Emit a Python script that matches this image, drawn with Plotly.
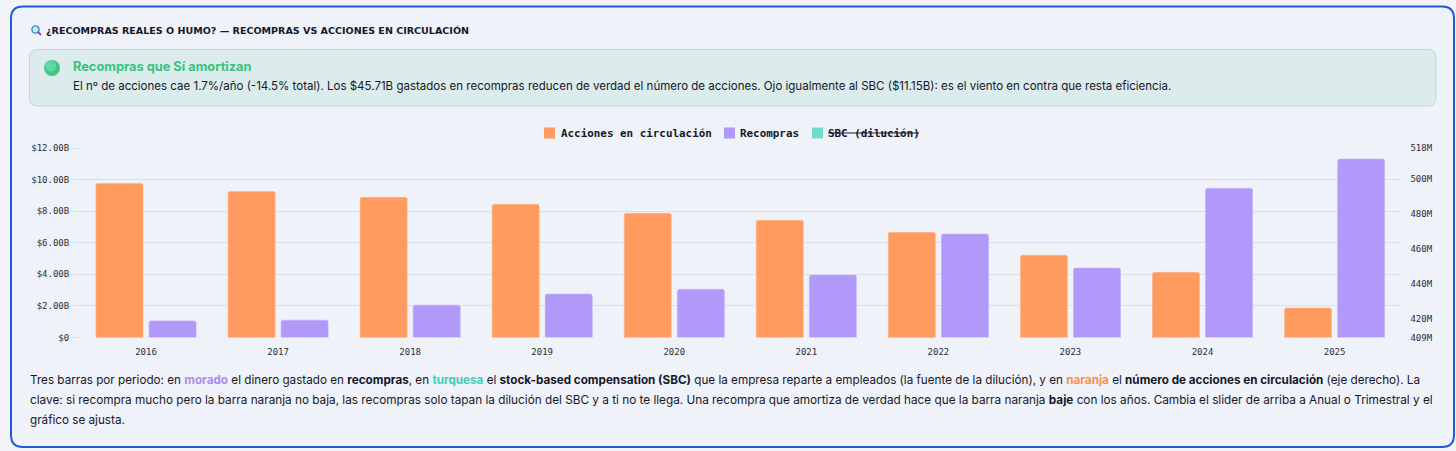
import plotly.graph_objects as go

W, H = 1456, 451

years = ["2016", "2017", "2018", "2019", "2020", "2021", "2022", "2023", "2024", "2025"]
shares_m = [497.6, 493.0, 489.6, 485.6, 480.4, 476.4, 469.5, 456.3, 446.5, 425.9]
buybacks_b = [1.05, 1.10, 2.05, 2.75, 3.05, 3.95, 6.55, 4.40, 9.45, 11.30]

left_ticks = [0, 2, 4, 6, 8, 10, 12]
left_labels = ["$0", "$2.00B", "$4.00B", "$6.00B", "$8.00B", "$10.00B", "$12.00B"]
right_ticks = [409, 420, 440, 460, 480, 500, 518]
right_labels = ["409M", "420M", "440M", "460M", "480M", "500M", "518M"]

legend_names = ["Acciones en circulación", "Recompras", "SBC (dilución)"]
title_text = "¿RECOMPRAS REALES O HUMO? — RECOMPRAS VS ACCIONES EN CIRCULACIÓN"
alert_title = "Recompras que Sí amortizan"
alert_body = ("El nº de acciones cae 1.7%/año (-14.5% total). Los $45.71B gastados en recompras reducen de verdad "
              "el número de acciones. Ojo igualmente al SBC ($11.15B): es el viento en contra que resta eficiencia.")
note_lines = [
    'Tres barras por periodo: en <span style="color:#a98cf0"><b>morado</b></span> el dinero gastado en <b>recompras</b>, en '
    '<span style="color:#3fcdb8"><b>turquesa</b></span> el <b>stock-based compensation (SBC)</b> que la empresa reparte a empleados '
    '(la fuente de la dilución), y en <span style="color:#f58f4f"><b>naranja</b></span> el <b>número de acciones en circulación</b> (eje derecho). La',
    'clave: si recompra mucho pero la barra naranja no baja, las recompras solo tapan la dilución del SBC y a ti no te llega. '
    'Una recompra que amortiza de verdad hace que la barra naranja <b>baje</b> con los años. Cambia el slider de arriba a Anual o Trimestral y el',
    'gráfico se ajusta.',
]

ORANGE, PURPLE, TEAL = "#ff9b5f", "#b199fa", "#70dccf"
INK = "#16182a"
GRID = "#dcdfea"
SANS = "Inter, 'Noto Sans', sans-serif"
MONO = "'DejaVu Sans Mono', monospace"


def px(x):
    return x / W


def py(y):
    return 1 - y / H


def rrect(x0, y0, x1, y1, r):
    X0, X1, Y0, Y1 = px(x0), px(x1), py(y0), py(y1)
    rx, ry = r / W, r / H
    return (f"M{X0 + rx},{Y0} L{X1 - rx},{Y0} Q{X1},{Y0} {X1},{Y0 - ry} L{X1},{Y1 + ry} Q{X1},{Y1} {X1 - rx},{Y1} "
            f"L{X0 + rx},{Y1} Q{X0},{Y1} {X0},{Y1 + ry} L{X0},{Y0 - ry} Q{X0},{Y0} {X0 + rx},{Y0} Z")


def pshape(path, fill, line, lw, layer="below"):
    return dict(type="path", xref="paper", yref="paper", path=path, fillcolor=fill,
                line=dict(color=line, width=lw), layer=layer)


def box(x0, y0, x1, y1, fill, layer="below"):
    return dict(type="rect", xref="paper", yref="paper", x0=px(x0), x1=px(x1), y0=py(y0), y1=py(y1),
                fillcolor=fill, line=dict(width=0), layer=layer)


def disc(cx, cy, r, fill, layer="above", line=None, lw=0):
    return dict(type="circle", xref="paper", yref="paper", x0=px(cx - r), x1=px(cx + r), y0=py(cy + r), y1=py(cy - r),
                fillcolor=fill, line=dict(color=line or fill, width=lw), layer=layer)


def seg(x0, y0, x1, y1, color, lw):
    return dict(type="line", xref="paper", yref="paper", x0=px(x0), x1=px(x1), y0=py(y0), y1=py(y1),
                line=dict(color=color, width=lw), layer="above")


def label(x, y, text, size, color=INK, family=SANS, weight=None):
    f = dict(size=size, color=color, family=family)
    if weight:
        f["weight"] = weight
    return dict(xref="paper", yref="paper", x=px(x - 2), y=py(y), text=text, showarrow=False, xanchor="left",
                yanchor="middle", align="left", font=f)


fig = go.Figure()
fig.add_bar(x=years, y=shares_m, yaxis="y2", name=legend_names[0], width=0.356, offset=-0.379,
            marker=dict(color=ORANGE, line=dict(color="#ffb487", width=0.6), cornerradius=2))
fig.add_bar(x=years, y=buybacks_b, yaxis="y", name=legend_names[1], width=0.356, offset=0.023,
            marker=dict(color=PURPLE, line=dict(color="#c3b2fb", width=0.6), cornerradius=2))

shapes = [
    pshape(rrect(11, 6.5, 1454, 447, 12), "#eff2f9", "#2159d6", 2),
    pshape(rrect(29.5, 49.5, 1436, 106, 8), "#dcecec", "#b7dcd3", 1),
    disc(52, 68, 8, "#45c488"),
    disc(50.5, 66, 5.5, "#62d79e"),
    disc(35.5, 29.5, 3.6, "#cfe8f5", line="#2f8fc0", lw=1.4),
    seg(38.2, 32.2, 41, 35, "#a03a9a", 1.8),
    box(544, 127.5, 555, 138.5, ORANGE),
    box(724, 127.5, 735, 138.5, PURPLE),
    box(812, 127.5, 823, 138.5, TEAL),
    seg(828, 133, 919, 133, INK, 1.2),
]

annotations = [
    label(46, 30.5, f"<b>{title_text}</b>", 9.55, family="'DejaVu Sans', sans-serif"),
    label(73, 66.5, f"<b>{alert_title}</b>", 12.8, color="#35c47c"),
    label(73, 86.5, alert_body, 11.53),
    label(561, 133, f"<b>{legend_names[0]}</b>", 10.9, family=MONO),
    label(740, 133, f"<b>{legend_names[1]}</b>", 10.9, family=MONO),
    label(828, 133, f"<b>{legend_names[2]}</b>", 10.9, family=MONO),
]
for y, line, size in zip((379.5, 400, 420), note_lines, (11.7, 11.77, 11.7)):
    annotations.append(label(29.5, y, line, size))

fig.update_layout(
    width=W, height=H, autosize=False, showlegend=False,
    margin=dict(l=0, r=0, t=0, b=0, autoexpand=False),
    paper_bgcolor="#f2f4f7", plot_bgcolor="rgba(0,0,0,0)",
    xaxis=dict(domain=[px(80), px(1400.6)], type="category", range=[-0.5, 9.5], showgrid=False, zeroline=False,
               showline=False, ticks="outside", ticklen=6, tickcolor="rgba(0,0,0,0)",
               tickfont=dict(family=MONO, size=9, color="#2b2d3a")),
    yaxis=dict(domain=[py(337.5), py(148)], range=[0, 12], tickvals=left_ticks, ticktext=left_labels,
               showgrid=True, gridcolor=GRID, gridwidth=1, zeroline=False, showline=False, ticks="outside",
               ticklen=8, tickcolor=GRID, tickfont=dict(family=MONO, size=9, color="#2b2d3a")),
    yaxis2=dict(domain=[py(337.5), py(148)], range=[409, 518], overlaying="y", side="right", anchor="x",
                tickvals=right_ticks, ticktext=right_labels, showgrid=False, zeroline=False, showline=False,
                ticks="outside", ticklen=7, tickcolor="rgba(0,0,0,0)",
                tickfont=dict(family=MONO, size=9, color="#2b2d3a")),
    shapes=shapes,
    annotations=annotations,
)

fig.write_html("out.html", default_width=f"{W}px", default_height=f"{H}px",
               config=dict(displayModeBar=False),
               post_script="document.body.style.margin='0';document.body.style.background='#f2f4f7';")
